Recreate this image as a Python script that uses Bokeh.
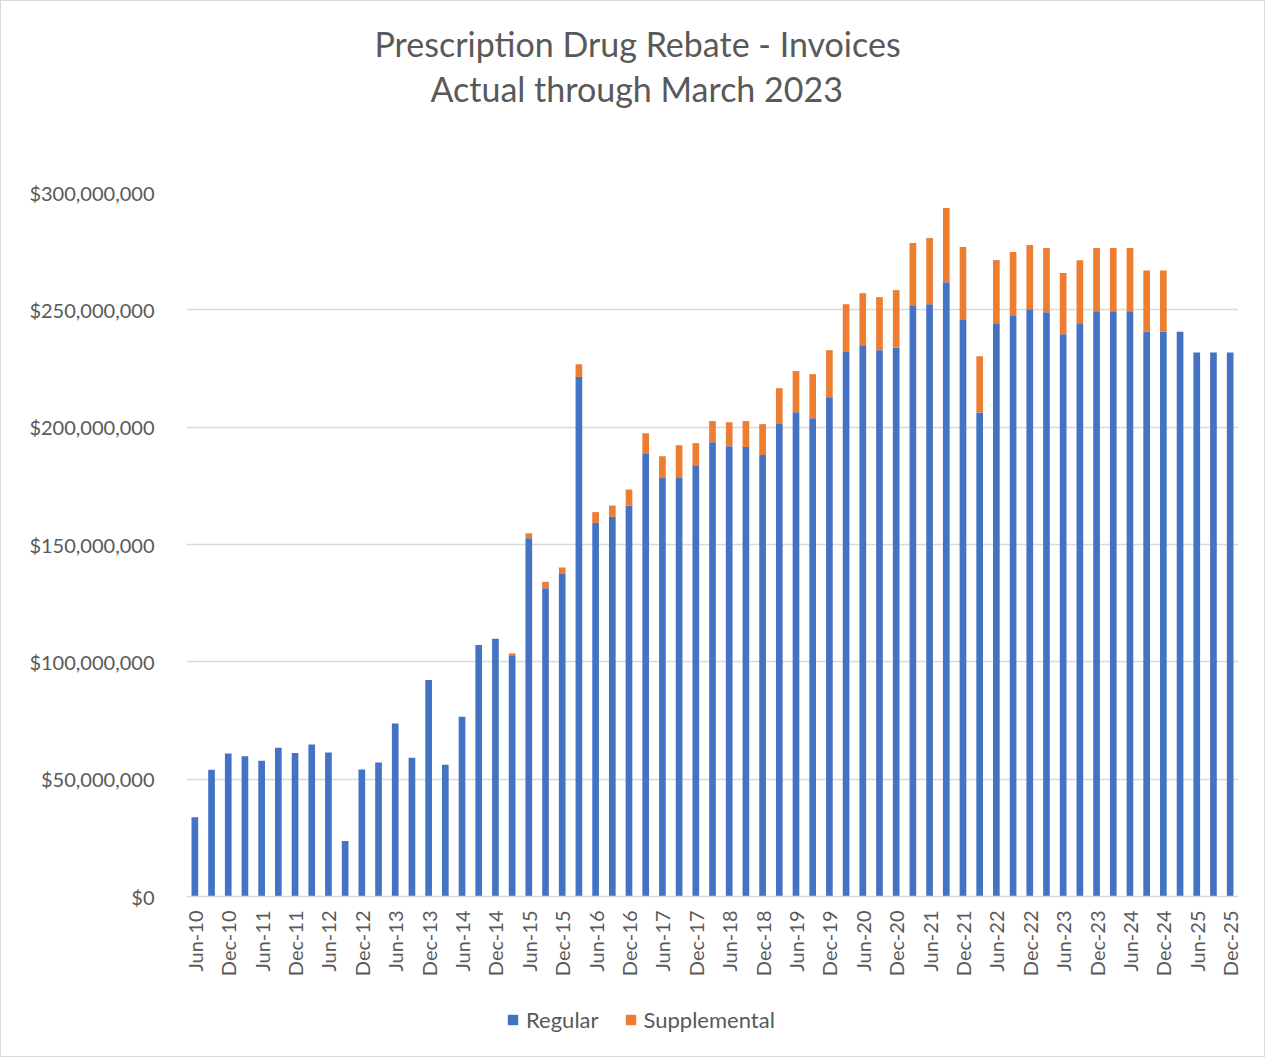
import math
from bokeh.plotting import figure
from bokeh.layouts import column
from bokeh.models import (ColumnDataSource, FixedTicker, NumeralTickFormatter, Title,
                          Legend, LegendItem, Range1d)
from bokeh.embed import file_html
from bokeh.resources import INLINE

quarters = ["Jun-10", "Sep-10", "Dec-10",
            "Mar-11", "Jun-11", "Sep-11", "Dec-11",
            "Mar-12", "Jun-12", "Sep-12", "Dec-12",
            "Mar-13", "Jun-13", "Sep-13", "Dec-13",
            "Mar-14", "Jun-14", "Sep-14", "Dec-14",
            "Mar-15", "Jun-15", "Sep-15", "Dec-15",
            "Mar-16", "Jun-16", "Sep-16", "Dec-16",
            "Mar-17", "Jun-17", "Sep-17", "Dec-17",
            "Mar-18", "Jun-18", "Sep-18", "Dec-18",
            "Mar-19", "Jun-19", "Sep-19", "Dec-19",
            "Mar-20", "Jun-20", "Sep-20", "Dec-20",
            "Mar-21", "Jun-21", "Sep-21", "Dec-21",
            "Mar-22", "Jun-22", "Sep-22", "Dec-22",
            "Mar-23", "Jun-23", "Sep-23", "Dec-23",
            "Mar-24", "Jun-24", "Sep-24", "Dec-24",
            "Mar-25", "Jun-25", "Sep-25", "Dec-25"]

# values in millions of dollars
regular_m = [33.8, 54.0, 60.9,
             59.8, 57.8, 63.4, 61.2,
             64.8, 61.4, 23.7, 54.1,
             57.1, 73.7, 59.1, 92.3,
             56.1, 76.6, 107.2, 109.8,
             102.8, 152.7, 131.4, 137.4,
             221.4, 159.2, 161.8, 166.5,
             188.9, 178.3, 178.7, 183.8,
             193.6, 191.9, 191.5, 188.1,
             201.7, 206.4, 203.8, 212.8,
             232.0, 234.9, 232.8, 234.0,
             252.0, 252.4, 261.8, 246.0,
             206.3, 244.3, 247.7, 250.3,
             249.0, 239.6, 244.3, 249.4,
             249.4, 249.4, 240.7, 240.7,
             240.7, 231.8, 231.8, 231.8]

supplemental_m = [0, 0, 0,
                  0, 0, 0, 0,
                  0, 0, 0, 0,
                  0, 0, 0, 0,
                  0, 0, 0, 0,
                  0.8, 2.1, 2.7, 2.8,
                  5.4, 4.6, 4.8, 6.9,
                  8.5, 9.3, 13.6, 9.4,
                  9.0, 10.2, 11.1, 13.2,
                  14.9, 17.5, 18.8, 20.0,
                  20.4, 22.2, 22.6, 24.4,
                  26.5, 28.2, 31.6, 30.8,
                  23.9, 26.9, 26.9, 27.3,
                  27.4, 26.1, 26.8, 27.0,
                  27.0, 27.0, 26.1, 26.1,
                  0, 0, 0, 0]

series_names = ["Regular", "Supplemental"]
series_colors = ["#4472C4", "#ED7D31"]
y_ticks = [0, 50e6, 100e6, 150e6, 200e6, 250e6, 300e6]
title_lines = ["Prescription Drug Rebate - Invoices", "Actual through March 2023"]

FONT = "Lato"
TXT = "#595959"
GRID = "#d9d9d9"

n = len(quarters)
src = ColumnDataSource(dict(
    x=list(range(n)),
    Regular=[v * 1e6 for v in regular_m],
    Supplemental=[v * 1e6 for v in supplemental_m],
))

p = figure(frame_width=1052, frame_height=704, output_backend="svg", toolbar_location=None,
           x_range=Range1d(-0.5, n - 0.5), y_range=Range1d(0, 300e6),
           min_border_left=185, min_border_right=26, min_border_top=191,
           min_border_bottom=95)
p.outline_line_color = None
p.background_fill_color = "white"
p.border_fill_color = "white"

rs = p.vbar_stack(series_names, x="x", width=0.4, color=series_colors,
                  line_color=None, source=src)

# axes
p.xaxis.ticker = FixedTicker(ticks=list(range(0, n, 2)))
p.xaxis.major_label_overrides = {i: quarters[i] for i in range(0, n, 2)}
p.xaxis.major_label_orientation = math.pi / 2
p.xaxis.major_tick_line_color = None
p.xaxis.minor_tick_line_color = None
p.xaxis.axis_line_color = GRID
p.xaxis.axis_line_width = 1.5
p.xaxis.major_label_text_font = FONT
p.xaxis.major_label_text_font_size = "20px"
p.xaxis.major_label_text_color = TXT
p.xaxis.major_label_standoff = 8
p.xgrid.visible = False

p.yaxis.ticker = FixedTicker(ticks=y_ticks)
p.yaxis.formatter = NumeralTickFormatter(format="$0,0")
p.yaxis.axis_line_color = None
p.yaxis.major_tick_line_color = None
p.yaxis.minor_tick_line_color = None
p.yaxis.major_label_text_font = FONT
p.yaxis.major_label_text_font_size = "20px"
p.yaxis.major_label_text_color = TXT
p.yaxis.major_label_standoff = 26
p.ygrid.grid_line_color = GRID
p.ygrid.grid_line_width = 1.5

# spacer between plot and the two title lines (panels stack outward from the plot)
p.add_layout(Title(text=" ", text_font_size="1px", standoff=79), "above")
title_offsets = [188, 244]
title_standoffs = [1, 3]
for i in reversed(range(len(title_lines))):
    p.add_layout(Title(text=title_lines[i], align="left", offset=title_offsets[i],
                       text_font=FONT, text_font_size="34px",
                       text_font_style="normal", text_color=TXT,
                       standoff=title_standoffs[i]), "above")

# legend strip below the chart (its frame is aligned with the main plot's frame)
pl = figure(width=1263, height=65, output_backend="svg", toolbar_location=None,
            x_axis_type=None, y_axis_type=None, min_border=0,
            x_range=Range1d(0, 1), y_range=Range1d(0, 1))
pl.outline_line_color = None
pl.grid.visible = False
pl.background_fill_color = "white"
pl.border_fill_color = "white"
swatches = [pl.vbar(x=[0], top=[0], width=0.4, color=c, line_color=None, visible=False)
            for c in series_colors]

legend = Legend(items=[LegendItem(label=series_names[i], renderers=[swatches[i]])
                       for i in range(2)],
                orientation="horizontal", location=(320, 23))
legend.label_text_font = FONT
legend.label_text_font_size = "22px"
legend.label_text_color = TXT
legend.label_height = 22
legend.glyph_width = 13
legend.glyph_height = 13
legend.spacing = 25
legend.label_standoff = 7
legend.padding = 0
legend.margin = 0
legend.border_line_color = None
legend.background_fill_alpha = 0
pl.add_layout(legend)

layout = column(p, pl, spacing=0, styles={"border": "1px solid #d9d9d9"})

open("out.html", "w").write(file_html(layout, INLINE))
